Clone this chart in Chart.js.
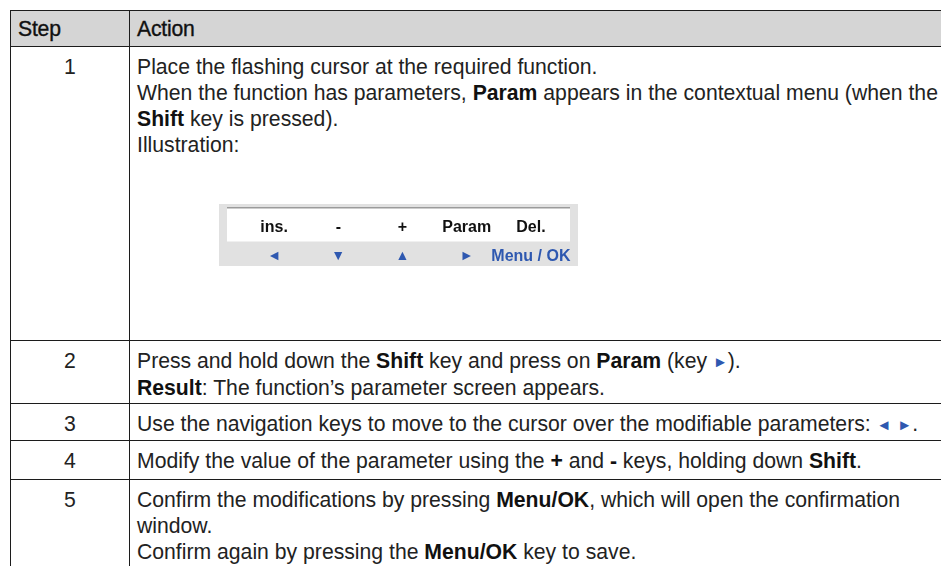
<!DOCTYPE html>
<html>
<head>
<meta charset="utf-8">
<script src="https://cdn.jsdelivr.net/npm/chart.js@4/dist/chart.umd.min.js"></script>
<style>
  html, body { margin: 0; padding: 0; background: #fff; }
  body { width: 941px; height: 566px; overflow: hidden; position: relative;
         font-family: 'Liberation Sans', Arial, sans-serif; color: #222; }
  table { position: absolute; left: 10px; top: 10px; width: 1000px;
          border-collapse: collapse; table-layout: fixed; }
  th, td { border: 1px solid #1c1c1c; padding: 7px 7px 0 7px; vertical-align: top;
           font-size: 21.2px; line-height: 26px; white-space: nowrap; }
  th { background: #d5d5d5; font-weight: normal; color: #111;
       text-align: left; padding: 4px 7px 3px 7px; vertical-align: middle;
       letter-spacing: -0.2px; -webkit-text-stroke: 0.35px #111; }
  td.step { text-align: center; }
  b { font-weight: bold; color: #111; }
  .key { color: #2e58b0; font-size: 15px; vertical-align: 1px; }
  #illu { display: block; margin: 46px 0 0 82px; background: #e1e1e1; }
</style>
</head>
<body>
<table id="tbl">
  <colgroup><col style="width:119px"><col style="width:881px"></colgroup>
  <thead><tr style="height:36px"><th>Step</th><th>Action</th></tr></thead>
  <tbody id="rows"></tbody>
</table>
<script>
// Tableau des étapes (texte par ligne, gras en <b>)
const headers = ['Step', 'Action'];
const steps = ['1', '2', '3', '4', '5'];
const rowHeights = [294, 63, 37, 39, 90];
const actions = [
  ['Place the flashing cursor at the required function.',
   'When the function has parameters, <b>Param</b> appears in the contextual menu (when the',
   '<b>Shift</b> key is pressed).',
   'Illustration:'],
  ['Press and hold down the <b>Shift</b> key and press on <b>Param</b> (key <span class="key">&#9658;</span>).',
   '<b>Result</b>: The function\u2019s parameter screen appears.'],
  ['Use the navigation keys to move to the cursor over the modifiable parameters: <span class="key">&#9668;</span> <span class="key">&#9658;</span>.'],
  ['Modify the value of the parameter using the <b>+</b> and <b>-</b> keys, holding down <b>Shift</b>.'],
  ['Confirm the modifications by pressing <b>Menu/OK</b>, which will open the confirmation',
   'window.',
   'Confirm again by pressing the <b>Menu/OK</b> key to save.']
];

// Illustration : touches du menu contextuel
const topKeys = ['ins.', '-', '+', 'Param', 'Del.'];
const bottomKeys = ['\u25C4', '\u25BC', '\u25B2', '\u25BA', 'Menu / OK'];

const tbody = document.getElementById('rows');
steps.forEach((s, i) => {
  const tr = document.createElement('tr');
  tr.style.height = rowHeights[i] + 'px';
  const tdS = document.createElement('td');
  tdS.className = 'step';
  tdS.textContent = s;
  const tdA = document.createElement('td');
  tdA.innerHTML = actions[i].join('<br>');
  if (i === 0) {
    const cv = document.createElement('canvas');
    cv.id = 'illu';
    cv.width = 359;
    cv.height = 62;
    tdA.appendChild(cv);
  }
  tr.appendChild(tdS);
  tr.appendChild(tdA);
  tbody.appendChild(tr);
});

// Fond blanc + filet gris au-dessus des libellés
const panelBg = {
  id: 'panelBg',
  beforeDraw(chart) {
    const c = chart.ctx;
    const bottom = chart.scales.x.top;
    c.save();
    c.fillStyle = '#ffffff';
    c.fillRect(8, 3, chart.width - 16, bottom - 3);
    c.fillStyle = '#9b9b9b';
    c.fillRect(8, 3, chart.width - 16, 1.5);
    c.restore();
  }
};

const fam = "'Liberation Sans', Arial, sans-serif";
new Chart(document.getElementById('illu'), {
  type: 'bar',
  data: { labels: topKeys, datasets: [{ data: [], xAxisID: 'x' }] },
  options: {
    responsive: false,
    animation: false,
    devicePixelRatio: 1,
    layout: { padding: { left: 23, right: 15, top: 14, bottom: 1 } },
    plugins: { legend: { display: false }, tooltip: { enabled: false } },
    scales: {
      xTop: {
        type: 'category', position: 'top', labels: topKeys, offset: true,
        grid: { display: false, drawTicks: false }, border: { display: false },
        ticks: { padding: 0, color: '#111', maxRotation: 0, autoSkip: false,
                 font: { family: fam, size: 16, weight: 'bold' } }
      },
      x: {
        type: 'category', position: 'bottom', labels: bottomKeys, offset: true,
        grid: { display: false, drawTicks: false }, border: { display: false },
        ticks: { padding: 5, color: '#2e58b0', maxRotation: 0, autoSkip: false,
                 font: (ctx) => ctx.index === 4
                   ? { family: fam, size: 16, weight: 'bold', lineHeight: 1.2 }
                   : { family: fam, size: 14, lineHeight: 19.2 / 14 } }
      },
      y: { display: false }
    }
  },
  plugins: [panelBg]
});
</script>
</body>
</html>
